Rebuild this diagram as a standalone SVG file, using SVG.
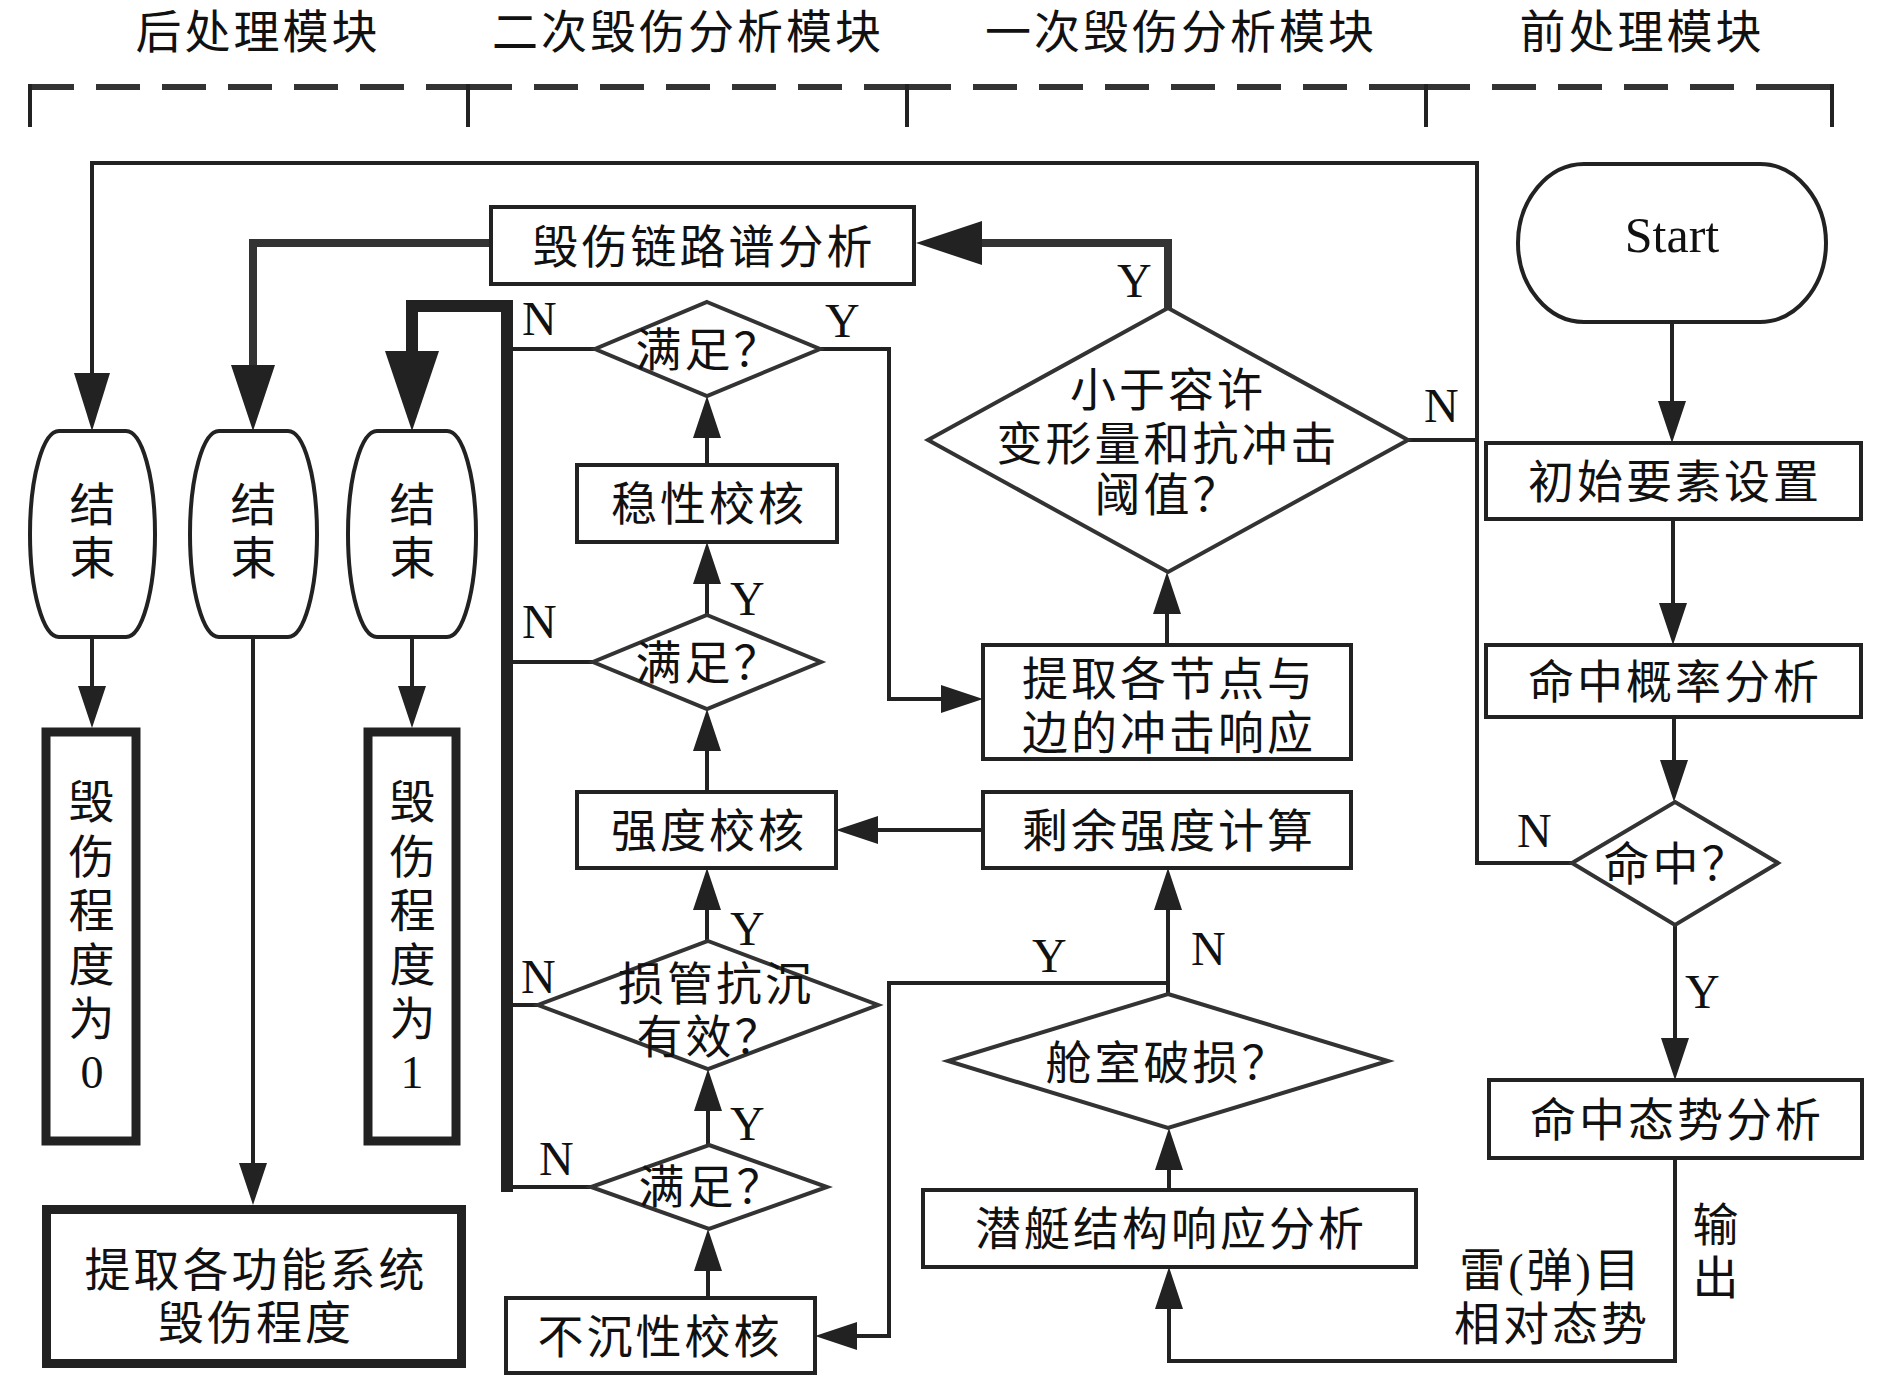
<svg xmlns="http://www.w3.org/2000/svg" width="1890" height="1382" viewBox="0 0 1890 1382">
<defs>
<style>
.box{fill:#fff;stroke:#222;stroke-width:4}
.thick{fill:#fff;stroke:#222;stroke-width:9}
.dia{fill:#fff;stroke:#333;stroke-width:4;stroke-linejoin:miter}
.t{font-family:"Liberation Serif","Noto Sans CJK SC",serif;font-size:46px;fill:#111;text-anchor:middle;letter-spacing:3px}
.lbl{font-family:"Liberation Serif",serif;font-size:48px;fill:#111}
.ln{fill:none;stroke:#222;stroke-width:4}
.dash{fill:none;stroke:#333;stroke-width:6;stroke-dasharray:44 22}
</style>
<marker id="ah" markerUnits="userSpaceOnUse" viewBox="0 0 42 28" markerWidth="42" markerHeight="28" refX="0" refY="14" orient="auto"><path d="M0,0L42,14L0,28z" fill="#222"/></marker>
<marker id="ah1" markerUnits="userSpaceOnUse" viewBox="0 0 58 36" markerWidth="58" markerHeight="36" refX="0" refY="18" orient="auto"><path d="M0,0L58,18L0,36z" fill="#222"/></marker>
<marker id="ah2" markerUnits="userSpaceOnUse" viewBox="0 0 66 44" markerWidth="66" markerHeight="44" refX="0" refY="22" orient="auto"><path d="M0,0L66,22L0,44z" fill="#222"/></marker>
<marker id="ah3" markerUnits="userSpaceOnUse" viewBox="0 0 80 54" markerWidth="80" markerHeight="54" refX="0" refY="27" orient="auto"><path d="M0,0L80,27L0,54z" fill="#222"/></marker>
</defs>
<rect x="0" y="0" width="1890" height="1382" fill="#fff"/>

<g id="module-headers">
<text class="t" x="258" y="48">后处理模块</text>
<text class="t" x="688" y="48">二次毁伤分析模块</text>
<text class="t" x="1181" y="48">一次毁伤分析模块</text>
<text class="t" x="1642" y="48">前处理模块</text>
</g>
<g id="module-brackets">
<path class="dash" d="M30,87 H468"/>
<path class="dash" d="M468,87 H907"/>
<path class="dash" d="M907,87 H1426"/>
<path class="dash" d="M1426,87 H1832"/>
<path d="M1390,87 H1426 M1790,87 H1832" stroke="#333" stroke-width="6" fill="none"/>
<path d="M30,84 V127 M468,84 V127 M907,84 V127 M1426,84 V127 M1832,84 V127" stroke="#222" stroke-width="4" fill="none"/>
</g>

<g id="connectors">
<path class="ln" d="M1672,322 V401" marker-end="url(#ah)"/>
<path class="ln" d="M1673,519 V603" marker-end="url(#ah)"/>
<path class="ln" d="M1674,717 V760" marker-end="url(#ah)"/>
<path class="ln" d="M1675,925 V1038" marker-end="url(#ah)"/>
<path class="ln" d="M1675,1158 V1361 H1169 V1309" marker-end="url(#ah)"/>
<path class="ln" d="M1169,1190 V1170" marker-end="url(#ah)"/>
<path class="ln" d="M1168,994 V910" marker-end="url(#ah)"/>
<path class="ln" d="M1168,983 H889 V1336 H857" marker-end="url(#ah)"/>
<path class="ln" d="M983,830 H878" marker-end="url(#ah)"/>
<path class="ln" d="M1167,645 V614" marker-end="url(#ah)"/>
<path class="ln" d="M820,349 H889 V699 H941" marker-end="url(#ah)"/>
<path class="ln" d="M707,465 V438" marker-end="url(#ah)"/>
<path class="ln" d="M707,615 V584" marker-end="url(#ah)"/>
<path class="ln" d="M707,792 V751" marker-end="url(#ah)"/>
<path class="ln" d="M707,941 V910" marker-end="url(#ah)"/>
<path class="ln" d="M708,1145 V1111" marker-end="url(#ah)"/>
<path class="ln" d="M708,1298 V1271" marker-end="url(#ah)"/>
<path class="ln" d="M92,637 V686" marker-end="url(#ah)"/>
<path class="ln" d="M253,637 V1163" marker-end="url(#ah)"/>
<path class="ln" d="M412,637 V686" marker-end="url(#ah)"/>
<path class="ln" d="M1572,863 H1477 V163 H92 V373" marker-end="url(#ah1)"/>
<path class="ln" d="M1408,440 H1477"/>
<path d="M1168,308 V243 H982" fill="none" stroke="#333" stroke-width="8" marker-end="url(#ah2)"/>
<path d="M489,243 H253 V365" fill="none" stroke="#333" stroke-width="8" marker-end="url(#ah2)"/>
<path d="M507,1192 V306 H412 V351" fill="none" stroke="#222" stroke-width="12" marker-end="url(#ah3)"/>
<path class="ln" d="M595,349 H507 M593,662 H507 M538,1005 H507 M591,1187 H507"/>
</g>

<g id="connector-labels" class="lbl">
<text x="522" y="335">N</text>
<text x="825" y="337">Y</text>
<text x="730" y="615">Y</text>
<text x="522" y="638">N</text>
<text x="730" y="945">Y</text>
<text x="521" y="993">N</text>
<text x="730" y="1140">Y</text>
<text x="539" y="1175">N</text>
<text x="1117" y="297">Y</text>
<text x="1424" y="422">N</text>
<text x="1517" y="847">N</text>
<text x="1685" y="1008">Y</text>
<text x="1032" y="972">Y</text>
<text x="1191" y="965">N</text>
</g>
<g id="output-labels">
<text class="t" x="1717" y="1241">输</text>
<text class="t" x="1717" y="1294">出</text>
<text class="t" x="1551" y="1286">雷(弹)目</text>
<text class="t" x="1552" y="1340">相对态势</text>
</g>

<g id="end1">
<path class="box" d="M59,431 H126 C142,431 155,477 155,534 C155,591 142,637 126,637 H59 C43,637 30,591 30,534 C30,477 43,431 59,431 Z"/>
<text class="t" x="94" y="521">结</text><text class="t" x="94" y="574">束</text>
</g>
<g id="end2">
<path class="box" d="M219,431 H288 C304,431 317,477 317,534 C317,591 304,637 288,637 H219 C203,637 190,591 190,534 C190,477 203,431 219,431 Z"/>
<text class="t" x="255" y="521">结</text><text class="t" x="255" y="574">束</text>
</g>
<g id="end3">
<path class="box" d="M377,431 H447 C463,431 476,477 476,534 C476,591 463,637 447,637 H377 C361,637 348,591 348,534 C348,477 361,431 377,431 Z"/>
<text class="t" x="414" y="521">结</text><text class="t" x="414" y="574">束</text>
</g>
<g id="damage0">
<rect class="thick" x="46" y="732" width="90" height="409"/>
<text class="t" x="93" y="818">毁</text><text class="t" x="93" y="873">伤</text><text class="t" x="93" y="927">程</text><text class="t" x="93" y="981">度</text><text class="t" x="93" y="1035">为</text><text class="t" x="92" y="1088" style="letter-spacing:0">0</text>
</g>
<g id="damage1">
<rect class="thick" x="368" y="732" width="88" height="409"/>
<text class="t" x="414" y="818">毁</text><text class="t" x="414" y="873">伤</text><text class="t" x="414" y="927">程</text><text class="t" x="414" y="981">度</text><text class="t" x="414" y="1035">为</text><text class="t" x="412" y="1088" style="letter-spacing:0">1</text>
</g>
<g id="extract-system-damage">
<rect class="thick" x="46.5" y="1209.5" width="415" height="154"/>
<text class="t" x="256" y="1286">提取各功能系统</text>
<text class="t" x="256" y="1339">毁伤程度</text>
</g>
<g id="damage-chain">
<rect class="box" x="491" y="207" width="423" height="77"/>
<text class="t" x="704" y="263">毁伤链路谱分析</text>
</g>
<g id="check1">
<polygon class="dia" points="707,302 820,349 707,396 595,349"/>
<text class="t" x="709" y="366">满足？</text>
</g>
<g id="stability">
<rect class="box" x="577" y="465" width="260" height="77"/>
<text class="t" x="709" y="520">稳性校核</text>
</g>
<g id="check2">
<polygon class="dia" points="707,615 821,662 707,709 593,662"/>
<text class="t" x="709" y="679">满足？</text>
</g>
<g id="strength">
<rect class="box" x="577" y="792" width="259" height="76"/>
<text class="t" x="709" y="847">强度校核</text>
</g>
<g id="damage-control">
<polygon class="dia" points="708,941 878,1005 708,1069 538,1005"/>
<text class="t" x="716" y="1000">损管抗沉</text>
<text class="t" x="710" y="1053">有效？</text>
</g>
<g id="check3">
<polygon class="dia" points="709,1145 827,1187 709,1229 591,1187"/>
<text class="t" x="712" y="1203">满足？</text>
</g>
<g id="unsinkability">
<rect class="box" x="506" y="1298" width="309" height="75"/>
<text class="t" x="660" y="1353">不沉性校核</text>
</g>
<g id="threshold">
<polygon class="dia" points="1168,308 1408,440 1168,572 928,440"/>
<text class="t" x="1168" y="406">小于容许</text>
<text class="t" x="1168" y="460">变形量和抗冲击</text>
<text class="t" x="1168" y="511">阈值？</text>
</g>
<g id="shock-response">
<rect class="box" x="983" y="645" width="368" height="114"/>
<text class="t" x="1169" y="695">提取各节点与</text>
<text class="t" x="1169" y="749">边的冲击响应</text>
</g>
<g id="residual-strength">
<rect class="box" x="983" y="792" width="368" height="76"/>
<text class="t" x="1169" y="847">剩余强度计算</text>
</g>
<g id="cabin-damage">
<polygon class="dia" points="1168,994 1388,1061 1168,1128 948,1061"/>
<text class="t" x="1168" y="1079">舱室破损？</text>
</g>
<g id="structure-response">
<rect class="box" x="923" y="1190" width="493" height="77"/>
<text class="t" x="1171" y="1245">潜艇结构响应分析</text>
</g>
<g id="start">
<path class="box" d="M1584,164 H1760 C1796,164 1826,200 1826,243 C1826,286 1796,322 1760,322 H1584 C1548,322 1518,286 1518,243 C1518,200 1548,164 1584,164 Z"/>
<text x="1672" y="252" style="font-family:'Liberation Serif',serif;font-size:50px;fill:#111;text-anchor:middle">Start</text>
</g>
<g id="initial-setup">
<rect class="box" x="1486" y="443" width="375" height="76"/>
<text class="t" x="1675" y="498">初始要素设置</text>
</g>
<g id="hit-probability">
<rect class="box" x="1486" y="645" width="375" height="72"/>
<text class="t" x="1675" y="698">命中概率分析</text>
</g>
<g id="hit-check">
<polygon class="dia" points="1675,802 1778,863 1675,925 1572,863"/>
<text class="t" x="1677" y="880">命中？</text>
</g>
<g id="hit-situation">
<rect class="box" x="1489" y="1080" width="373" height="78"/>
<text class="t" x="1677" y="1136">命中态势分析</text>
</g>
</svg>
